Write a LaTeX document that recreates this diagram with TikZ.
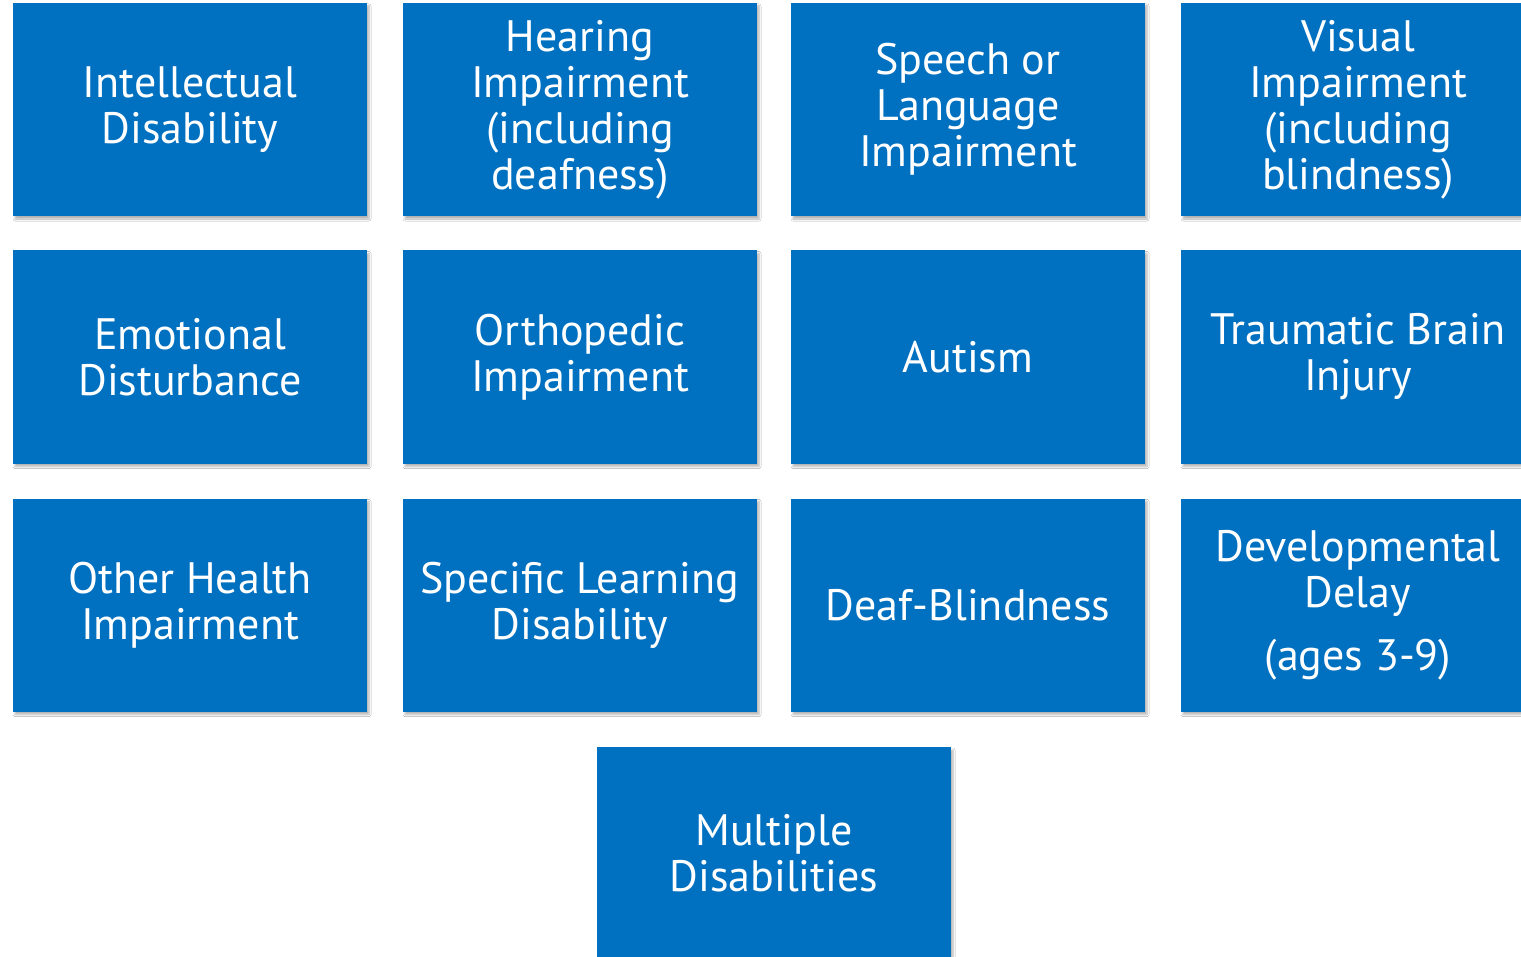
\documentclass[tikz,border=0pt]{standalone}
\usepackage{fontspec}
\setmainfont{PT Sans}
\usetikzlibrary{shadows.blur}
\definecolor{boxblue}{HTML}{0070C0}
\tikzset{
  catbox/.style={fill=boxblue, text=white, align=center,
    minimum width=354pt, minimum height=213pt, inner sep=0pt,
    font=\fontsize{44}{46}\selectfont,
    blur shadow={shadow xshift=2pt, shadow yshift=-3pt,
      shadow blur steps=6, shadow blur radius=2pt, shadow opacity=30}}
}
\begin{document}
\begin{tikzpicture}[x=1pt,y=-1pt]
%					Cadre de la figure :
					\useasboundingbox[fill=white] (0,0) rectangle (1521,957);
%					Premiere ligne :
					\node[catbox] (intel)   at (190,109.5)  {Intellectual\\Disability};
					\node[catbox] (hearing) at (580,109.5)  {Hearing\\Impairment\\(including\\deafness)};
					\node[catbox] (speech)  at (968,109.5)  {Speech or\\Language\\Impairment};
					\node[catbox] (visual)  at (1358,109.5) {Visual\\Impairment\\(including\\blindness)};
%					Deuxieme ligne :
					\node[catbox] (emotion) at (190,357)    {Emotional\\Disturbance};
					\node[catbox] (ortho)   at (580,357)    {Orthopedic\\Impairment};
					\node[catbox] (autism)  at (968,357)    {Autism};
					\node[catbox] (brain)   at (1358,357)   {Traumatic Brain\\Injury};
%					Troisieme ligne :
					\node[catbox] (health)  at (190,605)    {Other Health\\Impairment};
					\node[catbox] (learn)   at (580,605)    {Specific Learning\\Disability};
					\node[catbox] (deafbl)  at (968,605)    {Deaf-Blindness};
					\node[catbox] (devel)   at (1358,605)   {Developmental\\Delay\\[17pt](ages 3-9)};
%					Derniere case :
					\node[catbox] (multi)   at (774,853.5)  {Multiple\\Disabilities};
				\end{tikzpicture}
\end{document}
